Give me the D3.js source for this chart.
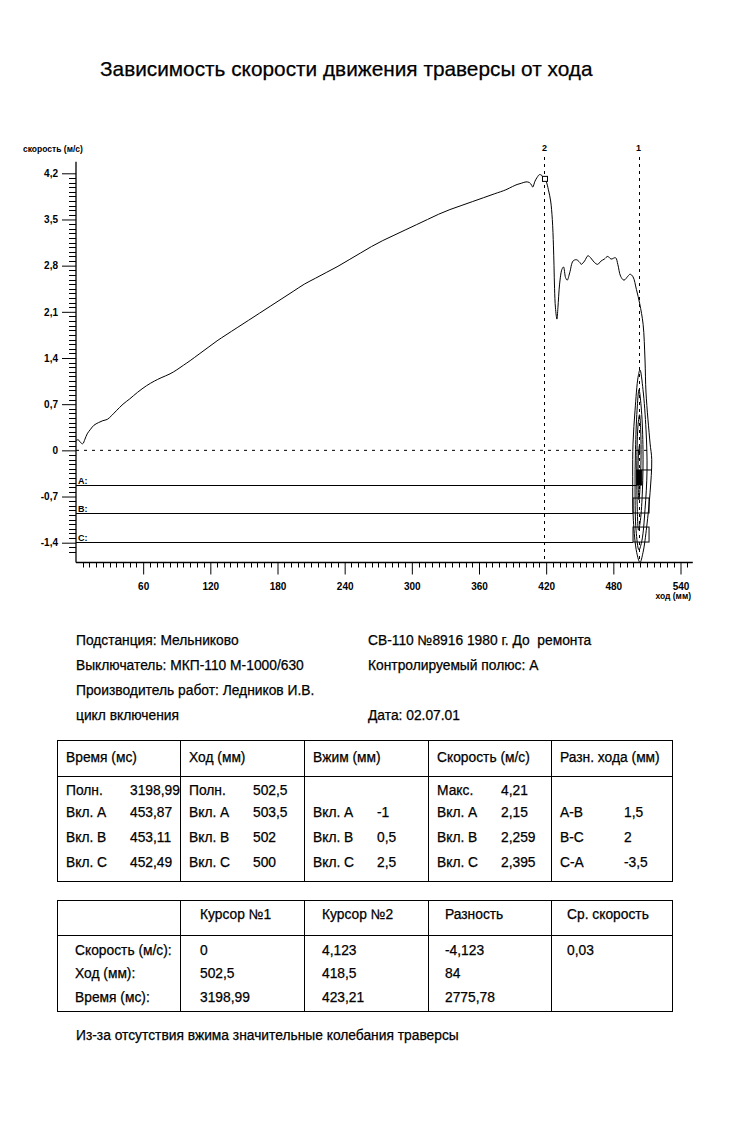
<!DOCTYPE html>
<html><head><meta charset="utf-8">
<script src="https://cdn.jsdelivr.net/npm/d3@7"></script>
<style>
body{margin:0;background:#fff;}
svg{display:block;font-family:"Liberation Sans",Arial,sans-serif;}
text{white-space:pre;}
.t{stroke:#000;stroke-width:0.25;}
</style></head>
<body><svg id="c" width="730" height="1123"></svg>
<script>
// ---- curve data: travel (mm) vs speed (m/s) ----
const travelMm = [0,2,4,6,8,10,13,16,20,24,28,32,36,42,48,55,63,70,76,84,90,96,102,110,118,126,134,144,154,164,174,184,194,204,214,224,234,244,254,264,274,284,294,304,314,324,334,344,354,364,374,384,390,394,398,402,405,407,408,410,412,414,416,417,418.5,420,422,424,425.5,426.5,427,427.5,428.3,429.6,430.5,432,434,435.5,437.3,438.8,441,444,447,450,451.3,454.3,457.3,459.7,463,466,469,472,475,478,482,484,486.5,489.5,493,495,497.6,500.6,503.6,506.6,
  508.3,509.2,512.8,514.3,512.8,509.8,506.5,503.8,500.9,497.9,497.3,497.6,499.4,502.1,503.8,506.5,509.2,510.1,508.3,505.6,502.9,500.3,499.4,499.8,501.2,502.9,505.1,506.5,506.0,504.2,502.5,501.2,501.0,502.1,503.4,504.7,504.2,502.9,502.1,502.4,503.4,503.4,502.5];
const speedMs = [0.15,0.16,0.12,0.10,0.17,0.25,0.32,0.38,0.42,0.45,0.47,0.53,0.60,0.70,0.78,0.88,0.98,1.05,1.10,1.16,1.22,1.29,1.36,1.46,1.56,1.66,1.75,1.86,1.97,2.08,2.19,2.30,2.41,2.52,2.61,2.70,2.79,2.89,2.99,3.09,3.18,3.26,3.34,3.42,3.50,3.58,3.65,3.71,3.77,3.83,3.89,3.95,4.00,4.03,4.05,4.07,4.06,4.02,3.99,4.08,4.14,4.18,4.17,4.14,4.123,4.08,3.95,3.78,3.50,3.10,2.80,2.45,2.16,1.99,2.16,2.52,2.74,2.78,2.62,2.58,2.69,2.87,2.89,2.85,2.82,2.87,2.95,2.92,2.85,2.82,2.87,2.90,2.94,2.90,2.92,2.82,2.64,2.58,2.64,2.67,2.63,2.44,2.22,1.91,
  1.37,0.87,0.11,-0.14,-0.64,-1.16,-1.55,-1.70,-1.55,-1.06,-0.40,0.11,0.61,1.11,1.22,0.92,0.31,-0.30,-0.90,-1.36,-1.51,-1.21,-0.60,0.01,0.61,0.92,0.61,0.01,-0.60,-1.06,-1.21,-0.75,-0.15,0.39,0.54,0.16,-0.45,-0.75,-0.45,-0.07,0.08,-0.07,0.0];

// axis ticks
const yMajorTicks = [-1.4,-0.7,0,0.7,1.4,2.1,2.8,3.5,4.2];
const xMajorTicks = [60,120,180,240,300,360,420,480,540];

// cursors
const cursorNames = ["2","1"];
const cursorTravel = [418.5, 502.5];
const cursorSpeed = [4.123, 0];

// phase indicator lines
const phaseNames = ["A:","B:","C:"];
const phaseLevel = [-0.525,-0.95,-1.39];
const phaseEnd = [500.9,497.6,497.6];
const phaseBoxFrom = [500.9,497.6,497.6];
const phaseBoxTo = [505.4,511.9,511.9];

// info text
const infoLeft = ["Подстанция: Мельниково","Выключатель: МКП-110 М-1000/630","Производитель работ: Ледников И.В.","цикл включения"];
const infoRight = ["СВ-110 №8916 1980 г. До  ремонта","Контролируемый полюс: А","","Дата: 02.07.01"];

// table 1
const t1Headers = ["Время (мс)","Ход (мм)","Вжим (мм)","Скорость (м/с)","Разн. хода (мм)"];
const t1Labels = [["Полн.","Вкл. A","Вкл. B","Вкл. C"],["Полн.","Вкл. A","Вкл. B","Вкл. C"],["","Вкл. A","Вкл. B","Вкл. C"],["Макс.","Вкл. A","Вкл. B","Вкл. C"],["","A-B","B-C","C-A"]];
const t1Values = [["3198,99","453,87","453,11","452,49"],["502,5","503,5","502","500"],["","-1","0,5","2,5"],["4,21","2,15","2,259","2,395"],["","1,5","2","-3,5"]];

// table 2
const t2Headers = ["","Курсор №1","Курсор №2","Разность","Ср. скорость"];
const t2Rows = [["Скорость (м/с):","0","4,123","-4,123","0,03"],["Ход (мм):","502,5","418,5","84",""],["Время (мс):","3198,99","423,21","2775,78",""]];
const footnote = "Из-за отсутствия вжима значительные колебания траверсы";
const title = "Зависимость скорости движения траверсы от хода";

const svg = d3.select("#c");
svg.append("rect").attr("width",730).attr("height",1123).attr("fill","#fff");

svg.append("text").attr("class","t").attr("x",100).attr("y",76).attr("font-size",20.8).text(title);

const x = d3.scaleLinear().domain([0,540]).range([76,680.5]);
const y = d3.scaleLinear().domain([-1.4,4.2]).range([542.7,173.3]);
const fmt = d => String(Math.round(d*10)/10).replace(".",",");

// y axis
const gy = svg.append("g").attr("transform","translate(76,0)");
gy.call(d3.axisLeft(y).tickValues(yMajorTicks).tickSize(14).tickFormat(fmt).tickSizeOuter(0));
gy.select(".domain").remove();
gy.selectAll("text").attr("font-size",10).attr("font-weight","bold").attr("font-family","Liberation Sans, Arial").attr("dx",-1);
const yMinor = d3.range(-22,61).map(i=>i*0.07).filter(v=>yMajorTicks.every(m=>Math.abs(m-v)>1e-6));
gy.call(g=>g.selectAll(".mn").data(yMinor).join("line").attr("class","mn").attr("x1",-7).attr("x2",0).attr("y1",d=>Math.round(y(d))+0.5).attr("y2",d=>Math.round(y(d))+0.5).attr("stroke","#000"));
gy.append("line").attr("x1",0).attr("x2",0).attr("y1",y(4.375)).attr("y2",y(-1.70)).attr("stroke","#000").attr("stroke-width",1.3);
svg.append("text").attr("x",23).attr("y",152).attr("font-size",8.5).attr("font-weight","bold").text("скорость (м/с)");

// x axis
const axisY = y(-1.70);
const gx = svg.append("g").attr("transform",`translate(0,${axisY})`);
gx.call(d3.axisBottom(x).tickValues(xMajorTicks).tickSize(12).tickFormat(d=>d).tickSizeOuter(0));
gx.select(".domain").remove();
gx.selectAll("text").attr("font-size",10).attr("font-weight","bold").attr("dy","1.3em").attr("font-family","Liberation Sans, Arial");
const xMinor = d3.range(1,92).map(i=>i*6).filter(v=>v%60!==0);
gx.selectAll(".mn").data(xMinor).join("line").attr("class","mn").attr("x1",d=>Math.round(x(d))+0.5).attr("x2",d=>Math.round(x(d))+0.5).attr("y1",0).attr("y2",5).attr("stroke","#000");
gx.append("line").attr("x1",x(0)).attr("x2",x(551)).attr("y1",0).attr("y2",0).attr("stroke","#000").attr("stroke-width",1.3);
svg.append("text").attr("x",691).attr("y",599).attr("text-anchor","end").attr("font-size",8.5).attr("font-weight","bold").text("ход (мм)");

// zero dashed line
svg.append("line").attr("x1",x(0)).attr("x2",x(514)).attr("y1",y(0)).attr("y2",y(0)).attr("stroke","#000").attr("stroke-dasharray","3,5");

// cursors
cursorTravel.forEach((t,i)=>{
  svg.append("line").attr("x1",Math.round(x(t))+0.5).attr("x2",Math.round(x(t))+0.5).attr("y1",157).attr("y2",axisY).attr("stroke","#000").attr("stroke-dasharray","3,4");
  svg.append("text").attr("x",x(t)).attr("y",151).attr("text-anchor","middle").attr("font-size",9).attr("font-weight","bold").text(cursorNames[i]);
});

// phase lines
phaseLevel.forEach((lv,i)=>{
  svg.append("line").attr("x1",x(0)).attr("x2",x(phaseEnd[i])).attr("y1",Math.round(y(lv))+0.5).attr("y2",Math.round(y(lv))+0.5).attr("stroke","#000");
  svg.append("text").attr("x",78).attr("y",y(lv)-1).attr("font-size",9).attr("font-weight","bold").text(phaseNames[i]);
  const bx = x(phaseBoxFrom[i]), bw = x(phaseBoxTo[i])-x(phaseBoxFrom[i]);
  svg.append("rect").attr("x",bx).attr("y",y(lv)-15).attr("width",bw).attr("height",15)
    .attr("fill",i===0?"#000":"none").attr("stroke","#000");
  if(i===0) svg.append("line").attr("x1",bx+bw).attr("x2",x(514)).attr("y1",y(lv)-15).attr("y2",y(lv)-15).attr("stroke","#000");
});

// curve
const pts = travelMm.map((t,i)=>[t,speedMs[i]]);
svg.append("path").datum(pts)
  .attr("d",d3.line().x(d=>x(d[0])).y(d=>y(d[1])).curve(d3.curveCatmullRom.alpha(0.5)))
  .attr("fill","none").attr("stroke","#000").attr("stroke-width",1);

// cursor marker square
svg.append("rect").attr("x",x(cursorTravel[0])-2).attr("y",y(cursorSpeed[0])-2).attr("width",5).attr("height",5).attr("fill","#fff").attr("stroke","#000");

// info text
const fs = 13.8;
infoLeft.forEach((s,i)=>svg.append("text").attr("class","t").attr("x",76).attr("y",645+i*25).attr("font-size",fs).text(s));
infoRight.forEach((s,i)=>svg.append("text").attr("class","t").attr("x",368).attr("y",645+i*25).attr("font-size",fs).text(s));

// table 1
const colX = [57,180,304,428,551,673];
const t1 = svg.append("g");
t1.append("rect").attr("x",57.5).attr("y",740.5).attr("width",615).attr("height",141).attr("fill","none").attr("stroke","#000");
t1.append("line").attr("x1",57).attr("x2",673).attr("y1",776.5).attr("y2",776.5).attr("stroke","#000");
colX.slice(1,5).forEach(cx=>t1.append("line").attr("x1",cx+0.5).attr("x2",cx+0.5).attr("y1",740).attr("y2",882).attr("stroke","#000"));
const rowY1 = [795,817,842,867];
t1Headers.forEach((h,c)=>{
  t1.append("text").attr("class","t").attr("x",colX[c]+9).attr("y",762).attr("font-size",fs).text(h);
  t1Labels[c].forEach((s,r)=>t1.append("text").attr("class","t").attr("x",colX[c]+9).attr("y",rowY1[r]).attr("font-size",fs).text(s));
  t1Values[c].forEach((s,r)=>t1.append("text").attr("class","t").attr("x",colX[c]+73).attr("y",rowY1[r]).attr("font-size",fs).text(s));
});

// table 2
const t2 = svg.append("g");
t2.append("rect").attr("x",57.5).attr("y",900.5).attr("width",615).attr("height",111).attr("fill","none").attr("stroke","#000");
t2.append("line").attr("x1",57).attr("x2",673).attr("y1",935.5).attr("y2",935.5).attr("stroke","#000");
colX.slice(1,5).forEach(cx=>t2.append("line").attr("x1",cx+0.5).attr("x2",cx+0.5).attr("y1",900).attr("y2",1012).attr("stroke","#000"));
const t2ColX = [75,200,322,445,567];
t2Headers.forEach((h,c)=>t2.append("text").attr("class","t").attr("x",t2ColX[c]).attr("y",919).attr("font-size",fs).text(h));
const rowY2 = [955,978,1002];
t2Rows.forEach((row,r)=>row.forEach((s,c)=>t2.append("text").attr("class","t").attr("x",t2ColX[c]).attr("y",rowY2[r]).attr("font-size",fs).text(s)));

svg.append("text").attr("class","t").attr("x",76).attr("y",1040).attr("font-size",fs).text(footnote);
</script></body></html>
